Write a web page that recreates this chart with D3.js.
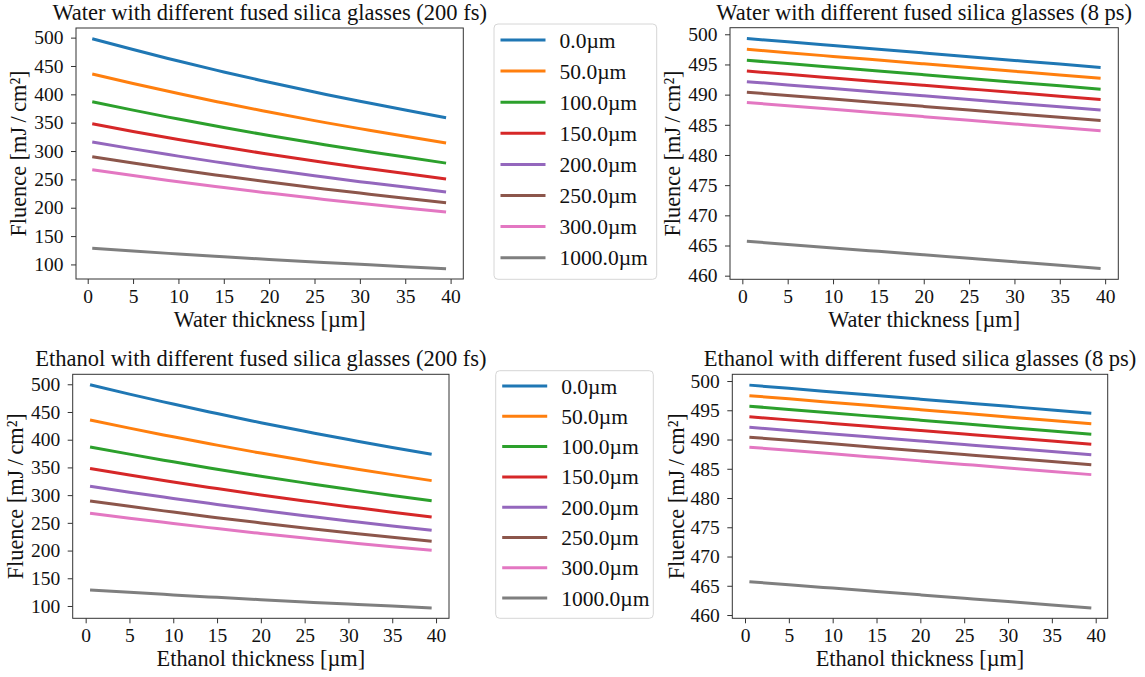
<!DOCTYPE html>
<html>
<head>
<meta charset="utf-8">
<script src="https://cdn.jsdelivr.net/npm/d3@7"></script>
<style>
  body { margin: 0; background: #fff; }
  svg, svg text { font-family: "Liberation Serif", "DejaVu Serif", serif; }
</style>
</head>
<body>
<script>
// thickness samples (µm) shared by every curve
const thickness = [0.5, 5, 10, 15, 20, 25, 30, 35, 39.5];
const glassLabels = ["0.0µm", "50.0µm", "100.0µm", "150.0µm", "200.0µm", "250.0µm", "300.0µm", "1000.0µm"];
const colors = ["#1f77b4", "#ff7f0e", "#2ca02c", "#d62728", "#9467bd", "#8c564b", "#e377c2", "#7f7f7f"];

// fluence, one row per glass thickness
const waterFs = [
  [498, 479.0, 458.7, 439.5, 421.3, 404.0, 387.8, 372.5, 358.7],
  [436, 419.2, 401.5, 384.6, 368.7, 353.6, 339.5, 326.1, 314.0],
  [387, 372.1, 356.4, 341.5, 327.3, 314.0, 301.4, 289.5, 278.7],
  [348, 334.6, 320.5, 307.0, 294.3, 282.3, 271.0, 260.3, 250.6],
  [316, 303.8, 291.0, 278.8, 267.3, 256.4, 246.0, 236.4, 227.6],
  [290, 278.8, 267.1, 255.9, 245.3, 235.3, 225.8, 216.9, 208.9],
  [267, 256.7, 245.9, 235.6, 225.8, 216.6, 207.9, 199.7, 192.3],
  [128.5, 123.6, 118.4, 113.5, 108.8, 104.3, 100.1, 96.1, 92.5]
];
const waterPs = [
  [499.3, 498.75, 498.13, 497.52, 496.90, 496.29, 495.67, 495.06, 494.5],
  [497.5, 496.95, 496.33, 495.72, 495.10, 494.49, 493.87, 493.26, 492.7],
  [495.7, 495.15, 494.53, 493.92, 493.30, 492.69, 492.07, 491.46, 490.9],
  [493.9, 493.36, 492.76, 492.15, 491.55, 490.95, 490.34, 489.74, 489.2],
  [492.15, 491.61, 491.01, 490.40, 489.80, 489.20, 488.59, 487.99, 487.45],
  [490.4, 489.86, 489.26, 488.65, 488.05, 487.45, 486.84, 486.24, 485.7],
  [488.7, 488.16, 487.56, 486.95, 486.35, 485.75, 485.14, 484.54, 484.0],
  [465.7, 465.18, 464.60, 464.03, 463.45, 462.87, 462.30, 461.72, 461.2]
];
const ethanolFs = [
  [499, 482.2, 464.3, 447.2, 430.7, 415.1, 400.2, 386.0, 373.8],
  [435.5, 420.9, 405.2, 390.2, 375.9, 362.3, 349.3, 337.0, 326.2],
  [387, 374.0, 360.1, 346.8, 334.1, 322.1, 310.5, 299.4, 289.9],
  [348, 336.3, 323.8, 311.8, 300.4, 289.6, 279.2, 269.3, 260.7],
  [316, 305.4, 294.0, 283.2, 272.8, 263.0, 253.5, 244.5, 236.7],
  [289.5, 279.8, 269.4, 259.4, 249.9, 240.9, 232.3, 224.0, 216.8],
  [267.5, 258.5, 248.9, 239.7, 230.9, 222.6, 214.6, 207.0, 200.4],
  [129, 124.7, 120.0, 115.6, 111.4, 107.3, 103.5, 99.8, 96.6]
];
const ethanolPs = [
  [499.3, 498.75, 498.13, 497.52, 496.90, 496.29, 495.67, 495.06, 494.5],
  [497.5, 496.95, 496.33, 495.72, 495.10, 494.49, 493.87, 493.26, 492.7],
  [495.7, 495.15, 494.53, 493.92, 493.30, 492.69, 492.07, 491.46, 490.9],
  [493.9, 493.36, 492.76, 492.15, 491.55, 490.95, 490.34, 489.74, 489.2],
  [492.1, 491.56, 490.96, 490.35, 489.75, 489.15, 488.54, 487.94, 487.4],
  [490.4, 489.86, 489.26, 488.65, 488.05, 487.45, 486.84, 486.24, 485.7],
  [488.7, 488.16, 487.56, 486.95, 486.35, 485.75, 485.14, 484.54, 484.0],
  [465.7, 465.18, 464.60, 464.03, 463.45, 462.87, 462.30, 461.72, 461.2]
];
const xTicks = [0, 5, 10, 15, 20, 25, 30, 35, 40];
const fsTicks = [100, 150, 200, 250, 300, 350, 400, 450, 500];
const psTicks = [460, 465, 470, 475, 480, 485, 490, 495, 500];

const width = 1145, height = 677;
const FONT = "'Liberation Serif', 'DejaVu Serif', serif";
const svg = d3.select("body").append("svg")
  .attr("width", width).attr("height", height);

const panels = [
  { title: "Water with different fused silica glasses (200 fs)", xLabel: "Water thickness [µm]",
    series: waterFs, yTicks: fsTicks, box: [76, 463.3, 28, 279], xDom: [-1.29, 41.4], yDom: [74.3, 517], yLabelX: 26 },
  { title: "Water with different fused silica glasses (8 ps)", xLabel: "Water thickness [µm]",
    series: waterPs, yTicks: psTicks, box: [730, 1118.3, 27.7, 279.3], xDom: [-1.36, 41.45], yDom: [459.4, 501.09], yLabelX: 680 },
  { title: "Ethanol with different fused silica glasses (200 fs)", xLabel: "Ethanol thickness [µm]",
    series: ethanolFs, yTicks: fsTicks, box: [72.7, 449, 374.3, 618.3], xDom: [-1.48, 41.48], yDom: [77.8, 518], yLabelX: 23 },
  { title: "Ethanol with different fused silica glasses (8 ps)", xLabel: "Ethanol thickness [µm]",
    series: ethanolPs, yTicks: psTicks, box: [732.3, 1107.7, 374.3, 618.3], xDom: [-1.45, 41.37], yDom: [459.44, 501.15], yLabelX: 684 }
];

panels.forEach((p) => {
  const [l, r, t, b] = p.box;
  const x = d3.scaleLinear().domain(p.xDom).range([l, r]);
  const y = d3.scaleLinear().domain(p.yDom).range([b, t]);
  const g = svg.append("g");

  const line = d3.line()
    .x((d, i) => x(thickness[i]))
    .y((d) => y(d))
    .curve(d3.curveNatural);

  g.selectAll("path.series")
    .data(p.series)
    .join("path")
    .attr("class", "series")
    .attr("fill", "none")
    .attr("stroke", (d, i) => colors[i])
    .attr("stroke-width", 3)
    .attr("d", line);

  const xAxis = g.append("g")
    .attr("transform", `translate(0,${b})`)
    .call(d3.axisBottom(x).tickValues(xTicks).tickSize(5).tickPadding(5));
  const yAxis = g.append("g")
    .attr("transform", `translate(${l},0)`)
    .call(d3.axisLeft(y).tickValues(p.yTicks).tickSize(5).tickPadding(7.5));
  [xAxis, yAxis].forEach((a) => {
    a.attr("font-family", FONT).attr("font-size", 19.5);
    a.select(".domain").remove();
    a.selectAll("line").attr("stroke", "#333");
    a.selectAll("text")
      .attr("fill", "#111")
      .attr("font-family", FONT);
  });

  // frame
  g.append("rect")
    .attr("x", l).attr("y", t)
    .attr("width", r - l).attr("height", b - t)
    .attr("fill", "none").attr("stroke", "#333").attr("stroke-width", 1);

  g.append("text")
    .attr("x", (l + r) / 2).attr("y", t - 8)
    .attr("text-anchor", "middle")
    .attr("font-size", 22.5)
    .attr("fill", "#111")
    .text(p.title);

  g.append("text")
    .attr("x", (l + r) / 2).attr("y", b + 48)
    .attr("text-anchor", "middle")
    .attr("font-size", 22.3)
    .attr("fill", "#111")
    .text(p.xLabel);

  g.append("text")
    .attr("transform", `translate(${p.yLabelX},${(t + b) / 2}) rotate(-90)`)
    .attr("text-anchor", "middle")
    .attr("font-size", 22.3)
    .attr("fill", "#111")
    .text("Fluence [mJ\u2009/\u2009cm²]");
});

// legends
const legends = [
  { box: [494, 656.7, 24, 279.3], y0: 40, step: 31.1 },
  { box: [495.7, 653.3, 370.7, 618.3], y0: 386, step: 30.3 }
];
legends.forEach((lg) => {
  const [l, r, t, b] = lg.box;
  const g = svg.append("g");
  g.append("rect")
    .attr("x", l).attr("y", t)
    .attr("width", r - l).attr("height", b - t)
    .attr("rx", 4)
    .attr("fill", "#fff").attr("fill-opacity", 0.8)
    .attr("stroke", "#d6d6d6").attr("stroke-width", 1);
  const row = g.selectAll("g.row")
    .data(glassLabels)
    .join("g")
    .attr("class", "row")
    .attr("transform", (d, i) => `translate(0,${lg.y0 + i * lg.step})`);
  row.append("line")
    .attr("x1", l + 6.5).attr("x2", l + 51.5)
    .attr("stroke", (d, i) => colors[i])
    .attr("stroke-width", 3);
  row.append("text")
    .attr("x", l + 65.5)
    .attr("dy", "0.35em")
    .attr("font-size", 21.5)
    .attr("fill", "#111")
    .text((d) => d);
});
</script>
</body>
</html>
